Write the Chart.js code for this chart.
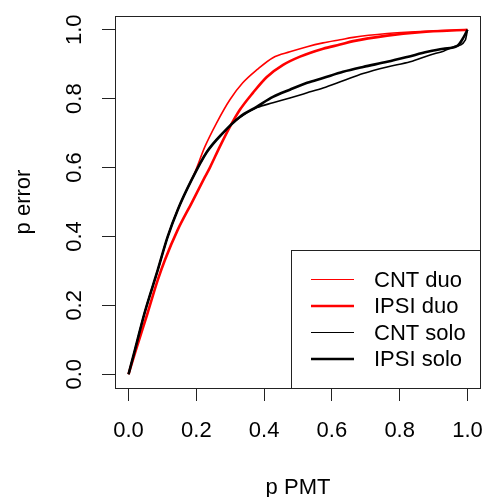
<!DOCTYPE html>
<html>
<head>
<meta charset="utf-8">
<script src="https://cdn.jsdelivr.net/npm/chart.js@4.4.1/dist/chart.umd.min.js"></script>
<style>
  html, body { margin: 0; padding: 0; background: #ffffff; }
  #wrap { width: 483px; height: 497px; }
</style>
</head>
<body>
<div id="wrap"><canvas id="c" width="483" height="497"></canvas></div>
<script>
// ---- data ----
const seriesLabels = ["CNT duo", "IPSI duo", "CNT solo", "IPSI solo"];

const cntDuoX  = [0, 0.02, 0.047, 0.086, 0.115, 0.145, 0.17, 0.195, 0.225, 0.26, 0.299, 0.337, 0.379, 0.426, 0.476, 0.527, 0.574, 0.624, 0.663, 0.763, 0.861, 1];
const cntDuoY  = [0, 0.075, 0.177, 0.302, 0.398, 0.477, 0.532, 0.584, 0.66, 0.73, 0.797, 0.846, 0.884, 0.919, 0.936, 0.951, 0.962, 0.971, 0.978, 0.989, 0.995, 1];

const ipsiDuoX = [0, 0.02, 0.056, 0.086, 0.107, 0.145, 0.186, 0.225, 0.24, 0.269, 0.299, 0.328, 0.367, 0.408, 0.456, 0.506, 0.574, 0.624, 0.663, 0.763, 0.861, 1];
const ipsiDuoY = [0, 0.065, 0.177, 0.273, 0.331, 0.419, 0.497, 0.572, 0.600, 0.66, 0.718, 0.767, 0.817, 0.863, 0.898, 0.922, 0.945, 0.957, 0.967, 0.983, 0.993, 1];

const cntSoloX  = [0, 0.02, 0.047, 0.086, 0.115, 0.145, 0.186, 0.231, 0.278, 0.328, 0.379, 0.426, 0.476, 0.527, 0.574, 0.633, 0.692, 0.763, 0.831, 0.89, 0.929, 0.959, 0.994, 1];
const cntSoloY  = [0, 0.075, 0.177, 0.302, 0.398, 0.477, 0.564, 0.645, 0.70, 0.745, 0.774, 0.788, 0.802, 0.817, 0.831, 0.852, 0.873, 0.892, 0.907, 0.927, 0.938, 0.95, 0.971, 1];

const ipsiSoloX = [0, 0.02, 0.047, 0.086, 0.115, 0.145, 0.186, 0.231, 0.278, 0.328, 0.379, 0.426, 0.476, 0.527, 0.574, 0.633, 0.692, 0.763, 0.822, 0.882, 0.929, 0.97, 0.988, 1];
const ipsiSoloY = [0, 0.075, 0.177, 0.302, 0.398, 0.477, 0.564, 0.645, 0.70, 0.747, 0.777, 0.805, 0.826, 0.846, 0.86, 0.878, 0.892, 0.907, 0.921, 0.936, 0.945, 0.953, 0.977, 1];

const xTicks = [0, 0.2, 0.4, 0.6, 0.8, 1.0];
const yTicks = [0, 0.2, 0.4, 0.6, 0.8, 1.0];
const xTitle = "p PMT";
const yTitle = "p error";

// ---- build the chart ----
function pts(xs, ys) { return xs.map((x, i) => ({ x: x, y: ys[i] })); }

const FONT = "'Liberation Sans', Arial, sans-serif";
const colors = ["#ff0000", "#ff0000", "#000000", "#000000"];
const plotWidths = [1.6, 2.6, 1.6, 2.6];
const legendWidths = [1.2, 2.6, 1.2, 2.6];
const allX = [cntDuoX, ipsiDuoX, cntSoloX, ipsiSoloX];
const allY = [cntDuoY, ipsiDuoY, cntSoloY, ipsiSoloY];

const datasets = seriesLabels.map((lab, i) => ({
  label: lab,
  data: pts(allX[i], allY[i]),
  showLine: true,
  borderColor: colors[i],
  backgroundColor: colors[i],
  borderWidth: plotWidths[i],
  pointRadius: 0,
  pointHoverRadius: 0,
  cubicInterpolationMode: 'monotone',
  fill: false,
  order: 4 - i
}));

const boxPlugin = {
  id: 'rbox',
  afterDatasetsDraw(chart) {
    const ctx = chart.ctx;
    const a = chart.chartArea;
    const L = Math.round(a.left) + 0.5, T = Math.round(a.top) + 0.5;
    const R = Math.round(a.right) - 0.5, B = Math.round(a.bottom) + 0.5;
    ctx.save();
    // legend box
    const lx = 291.5, ly = 250.5;
    ctx.fillStyle = '#ffffff';
    ctx.fillRect(lx, ly, R - lx, B - ly);
    ctx.strokeStyle = '#222222';
    ctx.lineWidth = 1;
    ctx.strokeRect(lx, ly, R - lx, B - ly);
    ctx.font = '22px ' + FONT;
    ctx.textBaseline = 'middle';
    ctx.textAlign = 'left';
    seriesLabels.forEach((lab, i) => {
      const y = 279.5 + i * 26.5;
      ctx.beginPath();
      ctx.strokeStyle = colors[i];
      ctx.lineWidth = legendWidths[i];
      ctx.moveTo(311, y);
      ctx.lineTo(354, y);
      ctx.stroke();
      ctx.fillStyle = '#000000';
      ctx.fillText(lab, 374, y + 1);
    });
    // plot box
    ctx.strokeStyle = '#222222';
    ctx.lineWidth = 1;
    ctx.strokeRect(L, T, R - L, B - T);
    ctx.restore();
  }
};

new Chart(document.getElementById('c'), {
  type: 'scatter',
  data: { datasets: datasets },
  options: {
    responsive: false,
    animation: false,
    devicePixelRatio: 1,
    layout: { padding: { top: 16, right: 2, left: 0, bottom: 0 } },
    plugins: { legend: { display: false }, tooltip: { enabled: false } },
    scales: {
      x: {
        type: 'linear',
        min: -0.04, max: 1.04,
        afterBuildTicks(s) { s.ticks = xTicks.map(v => ({ value: v })); },
        afterFit(s) { s.height = 109; s.paddingLeft = 0; s.paddingRight = 0; },
        border: { display: false },
        grid: { drawOnChartArea: false, drawTicks: true, tickLength: 13, color: '#222222', lineWidth: 1 },
        ticks: {
          color: '#000000', padding: 17, maxRotation: 0, minRotation: 0,
          font: { family: FONT, size: 22 },
          callback: v => v.toFixed(1)
        },
        title: {
          display: true, text: xTitle, color: '#000000',
          font: { family: FONT, size: 22, lineHeight: 0.8 },
          padding: { top: 0, bottom: 0 }
        }
      },
      y: {
        type: 'linear',
        min: -0.04, max: 1.04,
        afterBuildTicks(s) { s.ticks = yTicks.map(v => ({ value: v })); },
        afterFit(s) { s.width = 115; s.paddingTop = 0; s.paddingBottom = 0; },
        border: { display: false },
        grid: { drawOnChartArea: false, drawTicks: true, tickLength: 13, color: '#222222', lineWidth: 1 },
        ticks: {
          color: '#000000', padding: 12, minRotation: 90, maxRotation: 90, crossAlign: 'center',
          font: { family: FONT, size: 22 },
          callback: v => v.toFixed(1)
        },
        title: {
          display: true, text: yTitle, color: '#000000',
          font: { family: FONT, size: 22, lineHeight: 1.2 },
          padding: { top: 11, bottom: 0 }
        }
      }
    }
  },
  plugins: [boxPlugin]
});
</script>
</body>
</html>
